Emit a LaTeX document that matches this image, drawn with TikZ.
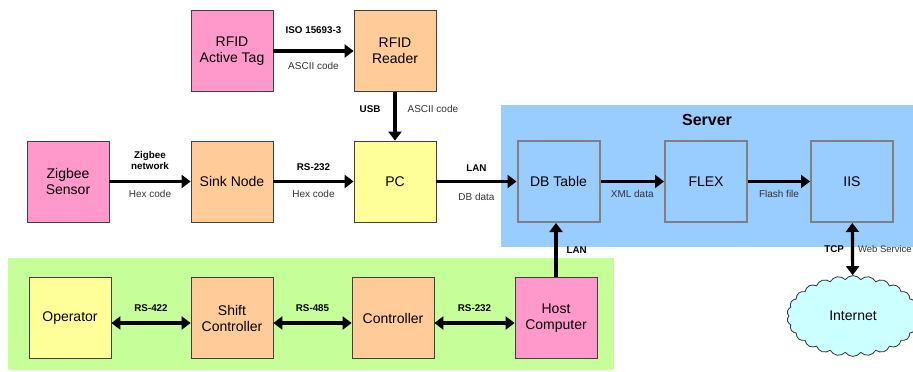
\documentclass[tikz,border=0pt]{standalone}
\usepackage{fontspec}
\setmainfont{Liberation Sans}
\usetikzlibrary{arrows.meta,shapes.symbols}

\definecolor{tagpink}{HTML}{FF99CC}
\definecolor{peach}{HTML}{FFCC99}
\definecolor{paleyellow}{HTML}{FFFF99}
\definecolor{serverblue}{HTML}{99CCFF}
\definecolor{lanegreen}{HTML}{C6FF99}
\definecolor{cloudcyan}{HTML}{CCFFFF}

\tikzset{
	box/.style={draw=black!75, line width=0.8pt, minimum width=82pt, minimum height=81pt, align=center, font=\fontsize{14}{16}\selectfont, inner sep=1pt},
	srvbox/.style={box, draw=black!50, line width=2pt, fill=serverblue},
	link/.style={line width=3.2pt, -{Triangle[length=9pt,width=13pt]}},
	duplex/.style={line width=3.2pt, {Triangle[length=9pt,width=13pt]}-{Triangle[length=9pt,width=13pt]}},
	lbl/.style={font=\fontsize{10}{11}\selectfont, text=black!80, inner sep=1pt},
	blbl/.style={font=\bfseries\fontsize{9.8}{11.5}\selectfont, inner sep=1pt, align=center}
}

\begin{document}
\begin{tikzpicture}[x=1pt,y=-1pt]
	\clip (0,0) rectangle (913,372);
	% backgrounds
	\fill[serverblue] (501,105) rectangle (913,247);
	\fill[lanegreen] (8,258) rectangle (614,370);
	\node[font=\bfseries\fontsize{16}{18}\selectfont] (server) at (707,120) {Server};
	% top rows
	\node[box, fill=tagpink] (tag) at (232,51) {RFID\\Active Tag};
	\node[box, fill=peach] (reader) at (395,51) {RFID\\Reader};
	\node[box, fill=tagpink] (zigbee) at (68,181.5) {Zigbee\\Sensor};
	\node[box, fill=peach] (sink) at (232,181.5) {Sink Node};
	\node[box, fill=paleyellow] (pc) at (395,181.5) {PC};
	\node[srvbox] (db) at (558.5,181.5) {DB Table};
	\node[srvbox] (flex) at (706,181.5) {FLEX};
	\node[srvbox] (iis) at (852,181.5) {IIS};
	% bottom row
	\node[box, fill=paleyellow] (op) at (70,318) {Operator};
	\node[box, fill=peach] (shift) at (232,318) {Shift\\Controller};
	\node[box, fill=peach] (ctrl) at (393,318) {Controller};
	\node[box, fill=tagpink] (host) at (556,318) {Host\\Computer};
	\node[draw=black!80, line width=0.8pt, cloud, cloud puffs=26, cloud puff arc=110, fill=cloudcyan, minimum width=132pt, minimum height=80pt, font=\fontsize{14}{16}\selectfont] (net) at (853,316) {Internet};
	% connectors
	\draw[link] (tag) -- node[blbl, above=15pt] {ISO 15693-3} node[lbl, below=9pt] {ASCII code} (reader);
	\draw[link] (reader) -- node[blbl, pos=0.35, left=12pt] {USB} node[lbl, pos=0.35, right=10pt] {ASCII code} (pc);
	\draw[link] (zigbee) -- node[blbl, above=9pt] {Zigbee\\network} node[lbl, below=6pt] {Hex code} (sink);
	\draw[link] (sink) -- node[blbl, above=8pt] {RS-232} node[lbl, below=6pt] {Hex code} (pc);
	\draw[link] (pc) -- node[blbl, above=7pt] {LAN} node[lbl, below=9pt] {DB data} (db);
	\draw[link] (db) -- node[lbl, below=6pt] {XML data} (flex);
	\draw[link] (flex) -- node[lbl, below=6pt] {Flash file} (iis);
	\draw[link] (host.north) -- node[blbl, right=8pt] {LAN} (host.north |- db.south);
	\draw[duplex] (iis) -- node[blbl, left=6pt] {TCP} node[lbl, right=3pt, font=\fontsize{9.5}{11}\selectfont] {Web Service} (net);
	\draw[duplex] ([yshift=-5pt]op.east) -- node[blbl, above=9pt] {RS-422} ([yshift=-5pt]shift.west);
	\draw[duplex] ([yshift=-5pt]shift.east) -- node[blbl, above=9pt] {RS-485} ([yshift=-5pt]ctrl.west);
	\draw[duplex] ([yshift=-5pt]ctrl.east) -- node[blbl, above=9pt] {RS-232} ([yshift=-5pt]host.west);
\end{tikzpicture}
\end{document}
